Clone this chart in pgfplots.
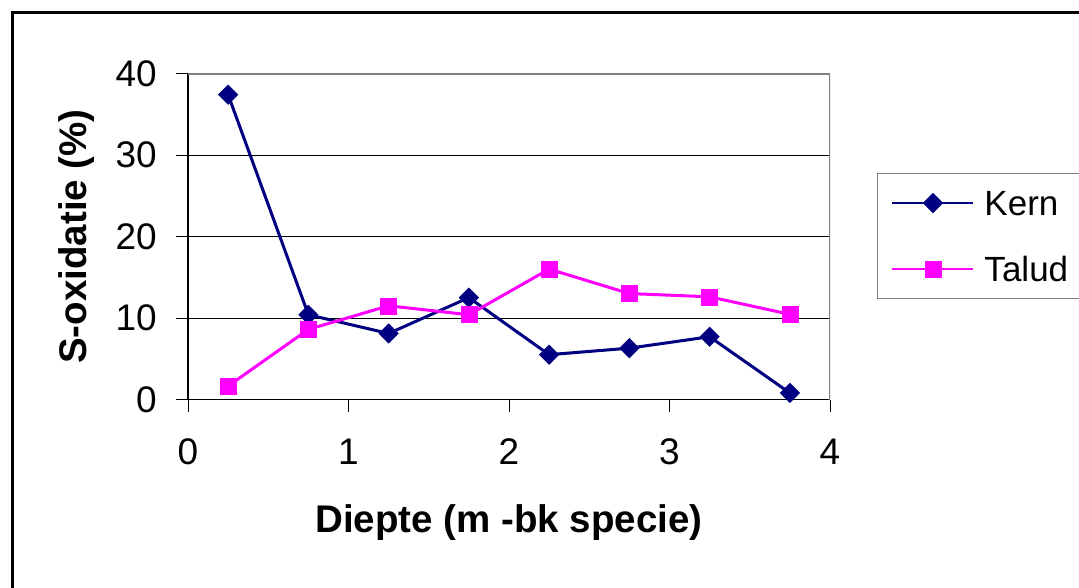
\documentclass[border=0pt]{standalone}
\usepackage{fontspec}
\setmainfont{Liberation Sans}
\usepackage{pgfplots}
\pgfplotsset{compat=1.18}
\definecolor{kern}{RGB}{0,0,128}
\definecolor{talud}{RGB}{255,0,255}
\definecolor{bordergray}{RGB}{128,128,128}
\begin{document}
\begin{tikzpicture}
\path[use as bounding box] (0pt,0pt) rectangle (1079pt,-588pt);
\draw[black, line width=3pt] (12.5pt,-12.3pt) rectangle (1110pt,-620pt);
\begin{axis}[
  at={(188pt,-399.5pt)}, anchor=south west,
  scale only axis, width=642pt, height=326pt,
  xmin=0, xmax=4, ymin=0, ymax=40,
  xtick={0,1,2,3,4}, ytick={0,10,20,30,40},
  axis lines=left,
  axis line style={black, line width=1.5pt, -},
  tick align=outside, major tick length=12pt,
  tick style={black, line width=1pt},
  ymajorgrids, grid style={black, line width=1pt},
  /pgf/number format/assume math mode=true,
  tick label style={font=\fontsize{37}{44}\selectfont},
  xticklabel style={anchor=base, inner sep=0pt, yshift=-53pt},
  yticklabel style={anchor=east, inner sep=0pt, xshift=-19pt},
  xlabel={Diepte (m -bk specie)},
  ylabel={S-oxidatie (\%)},
  label style={font=\fontsize{38.5}{46}\selectfont\bfseries},
  xlabel style={at={(axis description cs:0.5,-0.4095)}, anchor=base, inner sep=0pt},
  ylabel style={at={(axis description cs:-0.158,0.5)}, anchor=base, inner sep=0pt},
  legend style={at={(rel axis cs:1.0732,0.6947)}, anchor=north west,
    draw=bordergray, line width=1pt, fill=white,
    font=\fontsize{35}{35}\selectfont,
    inner xsep=14pt, inner ysep=17pt, row sep=41pt,
    nodes={inner sep=0pt, text height=25pt, text depth=0pt},
    /tikz/every odd column/.append style={column sep=10pt},
    /tikz/every even column/.append style={nodes={text width=82pt}}},
  legend cell align=left,
  legend image code/.code={
    \draw[mark repeat=2, mark phase=2, #1, line width=2pt]
      plot coordinates {(0pt,0pt) (40.5pt,0pt) (81pt,0pt)};
  },
]
\addplot[color=kern, line width=3pt, mark=square*, mark size=6.9pt,
  mark options={rotate=45, solid, line width=0.5pt, fill=kern}]
  coordinates {(0.25,37.4) (0.75,10.4) (1.25,8.1) (1.75,12.5) (2.25,5.5) (2.75,6.3) (3.25,7.7) (3.75,0.8)};
\addlegendentry{Kern}
\addplot[color=talud, line width=3pt, mark=square*, mark size=8pt,
  mark options={solid, line width=0.5pt, fill=talud}]
  coordinates {(0.25,1.65) (0.75,8.6) (1.25,11.5) (1.75,10.4) (2.25,16.0) (2.75,13.0) (3.25,12.6) (3.75,10.45)};
\addlegendentry{Talud}
\draw[bordergray, line width=2pt] (rel axis cs:0,1) -- (rel axis cs:1,1) -- (rel axis cs:1,0);
\end{axis}
\end{tikzpicture}
\end{document}
